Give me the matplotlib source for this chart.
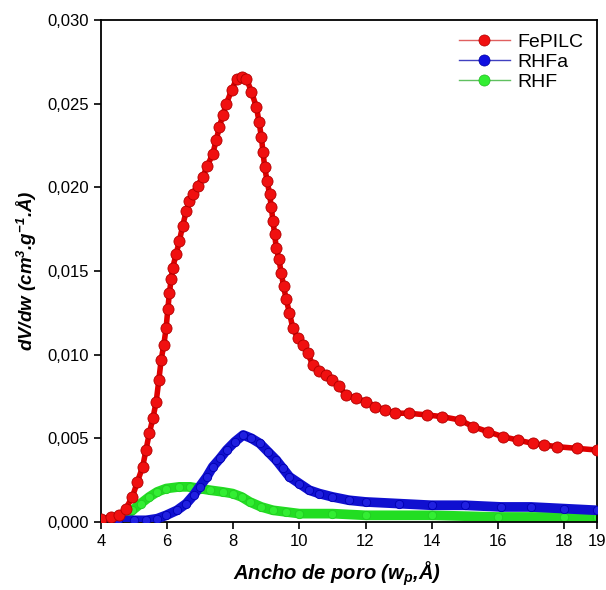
import numpy as np
import matplotlib
matplotlib.use("Agg")
import matplotlib.pyplot as plt
from matplotlib.ticker import FuncFormatter
from matplotlib.lines import Line2D

plt.rcParams['font.family'] = ['Liberation Sans', 'DejaVu Sans']
plt.rcParams['mathtext.fontset'] = 'custom'
plt.rcParams['mathtext.rm'] = 'Liberation Sans:italic:bold'
plt.rcParams['mathtext.it'] = 'Liberation Sans:italic:bold'
plt.rcParams['mathtext.bf'] = 'Liberation Sans:italic:bold'

# pore width (A) and dV/dw values
fe_x = [4.0, 4.3, 4.55, 4.75, 4.95, 5.1, 5.26, 5.36, 5.46, 5.57, 5.67, 5.75, 5.82, 5.9, 5.97,
        6.02, 6.07, 6.12, 6.17, 6.27, 6.37, 6.47, 6.58, 6.67, 6.77, 6.92, 7.07, 7.22, 7.38, 7.48,
        7.58, 7.68, 7.79, 7.95, 8.1, 8.25, 8.4, 8.55, 8.7, 8.78, 8.85, 8.9, 8.95, 9.02, 9.1,
        9.15, 9.2, 9.25, 9.3, 9.38, 9.45, 9.52, 9.6, 9.7, 9.8, 9.95, 10.1, 10.25, 10.4, 10.6,
        10.8, 11.0, 11.2, 11.4, 11.7, 12.0, 12.3, 12.6, 12.9, 13.3, 13.85, 14.3, 14.85, 15.25,
        15.7, 16.15, 16.6, 17.05, 17.4, 17.8, 18.4, 19.0]
fe_y = [0.0002, 0.0003, 0.0004, 0.0008, 0.0015, 0.0024, 0.0033, 0.0043, 0.0053, 0.0062, 0.0072,
        0.0085, 0.0097, 0.0106, 0.0116, 0.0127, 0.0137, 0.0145, 0.0152, 0.0160, 0.0168, 0.0177,
        0.0186, 0.0192, 0.0196, 0.0201, 0.0206, 0.0213, 0.0220, 0.0228, 0.0236, 0.0243, 0.0250,
        0.0258, 0.0265, 0.0266, 0.0265, 0.0257, 0.0248, 0.0239, 0.0230, 0.0221, 0.0212, 0.0204,
        0.0196, 0.0188, 0.0180, 0.0172, 0.0164, 0.0157, 0.0149, 0.0141, 0.0133, 0.0125, 0.0116,
        0.0110, 0.0106, 0.0101, 0.0094, 0.0090, 0.0088, 0.0085, 0.0081, 0.0076, 0.0074, 0.0072,
        0.0069, 0.0067, 0.0065, 0.0065, 0.0064, 0.0063, 0.0061, 0.0057, 0.0054, 0.0051, 0.0049,
        0.0047, 0.0046, 0.0045, 0.0044, 0.0043]

rhfa_x = [4.0, 4.5, 5.0, 5.37, 5.7, 5.97, 6.3, 6.58, 6.8, 6.98, 7.2, 7.38, 7.6, 7.8, 8.05, 8.3,
          8.55, 8.8, 9.05, 9.3, 9.5, 9.7, 10.0, 10.3, 10.6, 11.0, 11.5, 12.0, 13.0, 14.0, 15.0,
          16.1, 17.0, 18.0, 19.0]
rhfa_y = [0.0001, 0.0001, 0.0001, 0.0001, 0.0002, 0.0004, 0.0007, 0.0011, 0.0016, 0.0021, 0.0027,
          0.0033, 0.0038, 0.0043, 0.0048, 0.0052, 0.0050, 0.0047, 0.0042, 0.0037, 0.0032, 0.0027,
          0.0023, 0.0019, 0.0017, 0.0015, 0.0013, 0.0012, 0.0011, 0.0010, 0.0010, 0.0009, 0.0009,
          0.0008, 0.0007]

rhf_x = [4.0, 4.55, 4.75, 4.95, 5.2, 5.46, 5.7, 5.97, 6.37, 6.7, 6.98, 7.3, 7.68, 7.98, 8.25,
         8.5, 8.85, 9.2, 9.6, 10.0, 11.0, 12.0, 14.0, 16.0, 18.0, 19.0]
rhf_y = [0.0001, 0.0001, 0.0004, 0.0007, 0.0011, 0.0015, 0.0018, 0.0020, 0.0021, 0.0021, 0.0020,
         0.0019, 0.0018, 0.0017, 0.0015, 0.0012, 0.0009, 0.0007, 0.0006, 0.0005, 0.0005, 0.0004,
         0.0004, 0.0003, 0.0003, 0.0003]

x_ticks = [4, 6, 8, 10, 12, 14, 16, 18, 19]
y_ticks = [0.0, 0.005, 0.010, 0.015, 0.020, 0.025, 0.030]

fig = plt.figure(figsize=(6.06, 5.90), dpi=100)
ax = fig.add_axes([101/606, 1 - 522/590, 496/606, 502/590])

ax.plot(rhf_x, rhf_y, '-', color='#22dd22', lw=7, marker='o', ms=6,
        mfc='#33ee33', mec='#22cc22', mew=0.6, zorder=2)
ax.plot(rhfa_x, rhfa_y, '-', color='#1010d0', lw=7, marker='o', ms=6,
        mfc='#2020e0', mec='#0000b0', mew=0.6, zorder=3)
ax.plot(fe_x, fe_y, '-', color='#e00000', lw=4, marker='o', ms=8,
        mfc='#f01010', mec='#b00000', mew=0.6, zorder=4)

ax.set_xlim(4, 19)
ax.set_ylim(0, 0.030)
ax.set_xticks(x_ticks)
ax.set_yticks(y_ticks)
ax.yaxis.set_major_formatter(FuncFormatter(lambda v, p: f"{v:.3f}".replace('.', ',')))
ax.tick_params(direction='out', length=5, width=1.2, labelsize=12, right=False, top=False)
for s in ax.spines.values():
    s.set_linewidth(1.3)

ax.set_xlabel('Ancho de poro (w$_p$,Å)', fontsize=14.5, fontweight='bold', style='italic')
ax.xaxis.set_label_coords(0.475, -0.075)
ax.set_ylabel('dV/dw (cm$^3$.g$^{-1}$.Å)', fontsize=13.5, fontweight='bold', style='italic', labelpad=6)

handles = [
    Line2D([], [], color='#e06060', lw=1, marker='o', ms=8, mfc='#f01010', mec='#b00000', mew=0.5),
    Line2D([], [], color='#4040c0', lw=1, marker='o', ms=8, mfc='#1010e0', mec='#0000a0', mew=0.5),
    Line2D([], [], color='#60c060', lw=1, marker='o', ms=8, mfc='#33ee33', mec='#22bb22', mew=0.5),
]
ax.legend(handles, ['FePILC', 'RHFa', 'RHF'], loc='upper right', frameon=False, fontsize=14,
          handlelength=2.6, handletextpad=0.4, labelspacing=0.12, borderaxespad=0.3)

fig.savefig('out.png', dpi=100)
